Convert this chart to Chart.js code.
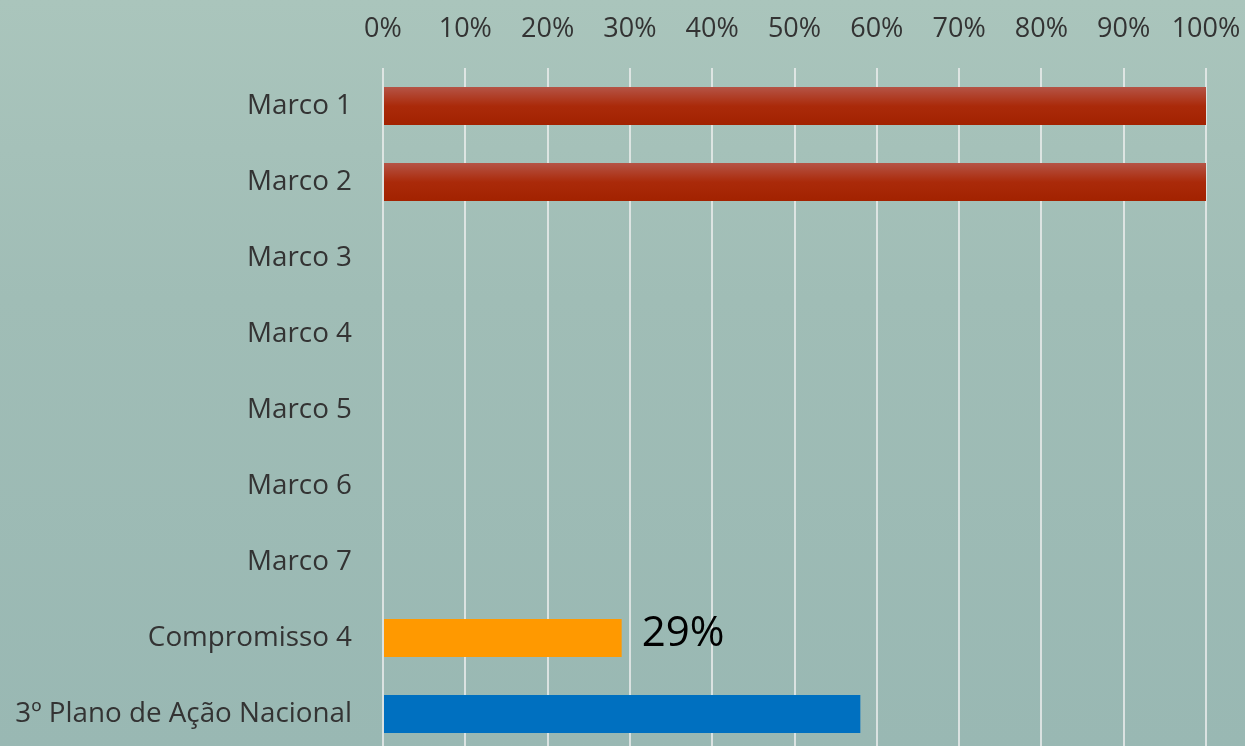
<!DOCTYPE html>
<html><head><meta charset="utf-8">
<script src="https://cdn.jsdelivr.net/npm/chart.js@4/dist/chart.umd.min.js"></script>
<style>
html,body{margin:0;padding:0;overflow:hidden;width:1245px;height:746px;}
body{background:linear-gradient(to bottom,#aac5bc 0%,#a0bdb6 40%,#99b8b3 100%);}
#wrap{position:absolute;left:0;top:0;width:1245px;height:752px;}
</style></head><body>
<div id="wrap"><canvas id="c" width="1245" height="752"></canvas></div>
<script>
const categories = ["Marco 1","Marco 2","Marco 3","Marco 4","Marco 5","Marco 6","Marco 7","Compromisso 4","3º Plano de Ação Nacional"];
const values = [100,100,null,null,null,null,null,29,58];
const tickValues = [0,10,20,30,40,50,60,70,80,90,100];
const labelledIndex = 7;
const labelText = "29%";

const FONT = "'Open Sans', 'Liberation Sans', sans-serif";

function barColor(ctx){
  const i = ctx.dataIndex;
  if (i === 7) return '#ff9900';
  if (i === 8) return '#0070c0';
  const chart = ctx.chart;
  const ys = chart.scales.y;
  if (!ys || !chart.chartArea) return '#a82a08';
  const yc = ys.getPixelForValue(i);
  const h = (ys.bottom - ys.top) / categories.length * 0.5;
  const g = chart.ctx.createLinearGradient(0, yc - h/2, 0, yc + h/2);
  g.addColorStop(0, '#b55446');
  g.addColorStop(0.5, '#aa2a0a');
  g.addColorStop(1, '#a22200');
  return g;
}

const labelPlugin = {
  id:'valLabel',
  afterDatasetsDraw(chart){
    const el = chart.getDatasetMeta(0).data[labelledIndex];
    const c = chart.ctx;
    c.save();
    c.font = "42px " + FONT;
    c.fillStyle = '#000';
    c.textAlign = 'left';
    c.textBaseline = 'middle';
    c.fillText(labelText, el.x + 20, el.y - 4);
    c.restore();
  }
};

new Chart(document.getElementById('c'), {
  type:'bar',
  data:{labels:categories, datasets:[{data:values, backgroundColor:barColor, borderWidth:0, categoryPercentage:1, barPercentage:0.5}]},
  options:{
    indexAxis:'y',
    responsive:false,
    animation:false,
    layout:{padding:{left:0,right:39,top:0,bottom:0}},
    plugins:{legend:{display:false},tooltip:{enabled:false}},
    scales:{
      x:{
        position:'top', min:0, max:100,
        afterBuildTicks(s){ s.ticks = tickValues.map(v=>({value:v})); },
        afterFit(s){ s.height = 68; s.paddingLeft = 0; s.paddingRight = 0; },
        ticks:{color:'#333333', font:{family:FONT,size:27}, padding:22, callback:v=>v+'%', maxRotation:0},
        grid:{color:'rgba(240,240,240,0.75)', lineWidth:2, drawTicks:false},
        border:{display:false}
      },
      y:{
        afterFit(s){ s.width = 383; s.paddingTop = 0; s.paddingBottom = 0; },
        ticks:{color:'#333333', font:{family:FONT,size:27.8}, padding:31, autoSkip:false},
        grid:{display:false, drawTicks:false, tickLength:0},
        border:{display:false}
      }
    }
  },
  plugins:[labelPlugin]
});
</script>
</body></html>
